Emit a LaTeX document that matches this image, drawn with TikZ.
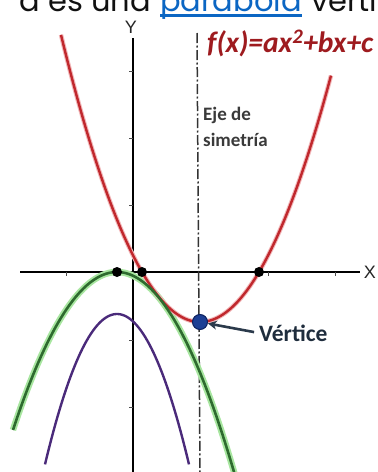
\documentclass[tikz,border=0pt]{standalone}
\usepackage{fontspec}
\usetikzlibrary{arrows.meta}
\newfontfamily\carlito{Carlito}
\newfontfamily\popfont{Poppins}
\newfontfamily\arialfont{Liberation Sans}
\definecolor{redc}{HTML}{C0282D}
\definecolor{redglow}{HTML}{F2B8BA}
\definecolor{greenc}{HTML}{2E6B2F}
\definecolor{greenglow}{HTML}{A8E6A0}
\definecolor{purplec}{HTML}{4A2A7A}
\definecolor{bluedot}{HTML}{1D3F94}
\definecolor{bluedotb}{HTML}{0E2260}
\definecolor{arrowc}{HTML}{2B3A4B}
\definecolor{labelred}{HTML}{9E1B1F}
\definecolor{labelgray}{HTML}{3A3A3A}
\definecolor{navy}{HTML}{1F2D3D}
\definecolor{linkblue}{HTML}{0B66C3}
\definecolor{textblack}{HTML}{111111}
\begin{document}
\begin{tikzpicture}[x=1pt,y=-1pt,
  axisline/.style={black,line width=1.1pt},
  tick/.style={black!70,line width=0.8pt},
  symline/.style={black!80,line width=1.5pt,dash pattern=on 10pt off 2.5pt on 2pt off 2.5pt},
  redcurve/.style={redc,line width=2.4pt},
  redhalo/.style={redglow,line width=4.5pt},
  greencurve/.style={greenc,line width=2.6pt},
  greenhalo/.style={greenglow,line width=6.5pt},
  purplecurve/.style={purplec,line width=2.4pt},
  blackdot/.style={circle,fill=black,inner sep=0pt,minimum size=10pt},
  vertexdot/.style={circle,fill=bluedot,draw=bluedotb,line width=1pt,inner sep=0pt,minimum size=15pt},
  axislabel/.style={font=\arialfont\fontsize{18}{21}\selectfont,text=black!85,inner sep=0pt},
  toptext/.style={font=\popfont\fontsize{30.5}{36}\selectfont,inner sep=0pt},
  pointer/.style={arrowc,line width=2.6pt,shorten <=5pt,-{Stealth[length=9pt,width=9pt]}}
]
\useasboundingbox (0,0) rectangle (378,472);
\clip (0,0) rectangle (378,472);

% top text (cut off)
\node[toptext,text=linkblue,anchor=base west] (t2) at (160,11) {parábola};
\fill[linkblue] ([yshift=-3pt]t2.base west) rectangle ([yshift=-6pt]t2.base east);
\node[toptext,text=textblack,anchor=base east] (t1) at ([xshift=-9pt]t2.base west) {a es una};
\node[toptext,text=textblack,anchor=base west] (t3) at ([xshift=9pt]t2.base east) {vértice};

% axes
\coordinate (xa) at (20,272);
\coordinate (xb) at (360,272);
\coordinate (ya) at (133,38);
\coordinate (yb) at (133,472);
\draw[axisline] (xa) -- (xb);
\draw[axisline] (ya) -- (yb);
\foreach \t in {66,268,335} \draw[tick] (\t,272) -- (\t,276);
\foreach \t in {71,138,205,340,407} \draw[tick] (133,\t) -- (129,\t);
\node[axislabel] (xl) at (370,272) {X};
\node[axislabel] (yl) at (131,27) {Y};

% symmetry axis
\coordinate (sa) at (197,33);
\coordinate (sb) at (200,472);
\draw[symline] (sa) -- (sb);

% curves
\draw[greenhalo] plot[domain=13:236,samples=80] (\x,{272+0.0146*(\x-117)*(\x-117)});
\draw[redhalo] plot[domain=61:200,samples=60] (\x,{322-0.01486*(\x-200)*(\x-200)})
  -- plot[domain=200:331,samples=60] (\x,{322-0.01436*(\x-200)*(\x-200)});
\draw[redcurve] plot[domain=61:200,samples=60] (\x,{322-0.01486*(\x-200)*(\x-200)})
  -- plot[domain=200:331,samples=60] (\x,{322-0.01436*(\x-200)*(\x-200)});
\draw[greencurve] plot[domain=13:236,samples=80] (\x,{272+0.0146*(\x-117)*(\x-117)});
\draw[purplecurve] plot[domain=45:189,samples=70] (\x,{314+0.029*(\x-117)*(\x-117)});

% points
\node[blackdot] (p1) at (117,272) {};
\node[blackdot] (p2) at (142,272) {};
\node[blackdot] (p3) at (259,272) {};
\node[vertexdot] (v) at (200,322) {};

% labels
\node[font=\carlito\bfseries\itshape\fontsize{29.5}{34}\selectfont,text=labelred,anchor=west,inner sep=0pt] (fx) at (207,43) {f(x)=ax\textsuperscript{2}+bx+c};
\node[font=\carlito\bfseries\fontsize{19}{23}\selectfont,text=labelgray,anchor=west,inner sep=0pt,align=left] (eje) at (203,127) {Eje de\\[3pt]simetría};
\node[font=\carlito\bfseries\fontsize{23.5}{28}\selectfont,text=navy,anchor=west,inner sep=0pt] (vl) at (259,333) {Vértice};
\draw[pointer] (vl.west) -- (v);
\end{tikzpicture}
\end{document}
